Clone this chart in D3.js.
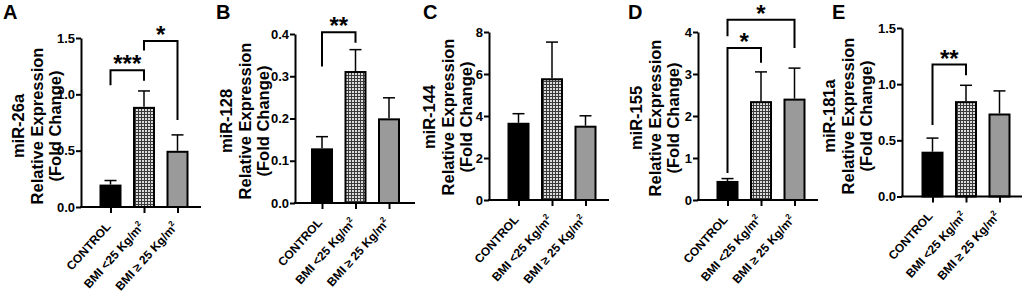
<!DOCTYPE html>
<html>
<head>
<meta charset="utf-8">
<script src="https://cdn.jsdelivr.net/npm/d3@7"></script>
<style>
  body { margin: 0; background: #fff; }
  svg { display: block; font-family: "Liberation Sans", Arial, sans-serif; font-weight: bold; }
</style>
</head>
<body>
<script>
// data
const groups = ["CONTROL", "BMI <25 Kg/m", "BMI \u2265 25 Kg/m"];
const groupSup = ["", "2", "2"];
const panelLetters = ["A", "B", "C", "D", "E"];
const mirnas = ["miR-26a", "miR-128", "miR-144", "miR-155", "miR-181a"];
const means = [
    [0.19, 0.88, 0.49],
    [0.127, 0.31, 0.198],
    [3.63, 5.75, 3.49],
    [0.43, 2.33, 2.39],
    [0.39, 0.84, 0.73]
];
const sems = [
    [0.045, 0.15, 0.15],
    [0.03, 0.053, 0.051],
    [0.48, 1.77, 0.52],
    [0.08, 0.72, 0.75],
    [0.13, 0.15, 0.21]
];
const yMax = [1.5, 0.4, 8, 4, 1.5];
const yStep = [0.5, 0.1, 2, 1, 0.5];
const yFormat = [".1f", ".1f", "d", "d", ".1f"];
// significance brackets: groups a-b, bar level, leg ends (data units)
const brackets = [
    [{ a: 0, b: 1, y: 1.213, ya: 1.08, yb: 1.12, t: "***" },
     { a: 1, b: 2, y: 1.473, ya: 1.39, yb: 0.772, t: "*" }],
    [{ a: 0, b: 1, y: 0.404, ya: 0.323, yb: 0.379, t: "**" }],
    [],
    [{ a: 0, b: 2, y: 4.29, ya: 3.9, yb: 3.62, t: "*" },
     { a: 0, b: 1, y: 3.62, ya: 0.64, yb: 3.27, t: "*" }],
    [{ a: 0, b: 1, y: 1.175, ya: 0.636, yb: 1.08, t: "**" }]
];

// layout
const axisX = [81, 295, 489, 698, 902];
const firstOff = [29.5, 27, 29.5, 29.5, 30.5];
const yBottom = [207, 203, 200, 200, 196.5];
const yTop = [38, 34, 32, 32, 28];
const letterX = [3, 216, 423, 628, 832];
const titleX = [18, 226, 429, 636, 829];
const titleY = [126, 121, 117, 118, 116];
const fills = ["#000", "url(#hatch)", "#9a9a9a"];

const svg = d3.select("body").append("svg")
    .attr("width", 1024)
    .attr("height", 292);

const pat = svg.append("defs").append("pattern")
    .attr("id", "hatch")
    .attr("patternUnits", "userSpaceOnUse")
    .attr("width", 3).attr("height", 3);
pat.append("rect").attr("width", 3).attr("height", 3).attr("fill", "#dcdcdc");
pat.append("rect").attr("width", 3).attr("height", 1).attr("fill", "#3a3a3a");
pat.append("rect").attr("width", 1).attr("height", 3).attr("fill", "#3a3a3a");

panelLetters.forEach((letter, i) => {
    const g = svg.append("g");
    const ax = axisX[i], y0 = yBottom[i];

    const x = d3.scalePoint().domain(d3.range(3)).range([ax + firstOff[i], ax + firstOff[i] + 67]);
    const y = d3.scaleLinear().domain([0, yMax[i]]).range([y0, yTop[i]]);

    g.append("text")
        .attr("x", letterX[i]).attr("y", 19)
        .attr("font-size", 20)
        .text(letter);

    // y title
    const title = g.append("text")
        .attr("transform", `translate(${titleX[i]},${titleY[i]}) rotate(-90)`)
        .attr("text-anchor", "middle")
        .attr("font-size", 16.5);
    [mirnas[i], "Relative Expression", "(Fold Change)"].forEach((s, k) => {
        title.append("tspan").attr("x", 0).attr("y", 6 + k * 18.5).text(s);
    });

    // bars
    g.selectAll(".bar").data(means[i]).join("rect")
        .attr("x", (d, k) => x(k) - 10)
        .attr("width", 20)
        .attr("y", d => y(d))
        .attr("height", d => y0 - y(d))
        .attr("fill", (d, k) => fills[k])
        .attr("stroke", "#000")
        .attr("stroke-width", 2);

    // error bars (upper only)
    means[i].forEach((m, k) => {
        g.append("line")
            .attr("x1", x(k)).attr("x2", x(k))
            .attr("y1", y(m) - 1).attr("y2", y(m + sems[i][k]))
            .attr("stroke", "#000").attr("stroke-width", 1.5);
        g.append("line")
            .attr("x1", x(k) - 6).attr("x2", x(k) + 6)
            .attr("y1", y(m + sems[i][k])).attr("y2", y(m + sems[i][k]))
            .attr("stroke", "#000").attr("stroke-width", 1.5);
    });

    // y axis
    const gy = g.append("g")
        .attr("transform", `translate(${ax},0)`)
        .call(d3.axisLeft(y)
            .tickValues(d3.range(0, yMax[i] + yStep[i] / 2, yStep[i]))
            .tickFormat(d3.format(yFormat[i]))
            .tickSize(5).tickSizeOuter(0))
        .attr("font-family", null).attr("font-size", null);
    gy.select(".domain").attr("stroke-width", 2);
    gy.selectAll(".tick line").attr("stroke-width", 2);
    gy.selectAll(".tick text").attr("font-size", 13).attr("fill", "#000").attr("x", -6);

    // x axis
    const gx = g.append("g")
        .attr("transform", `translate(0,${y0})`)
        .call(d3.axisBottom(x).tickSize(6).tickFormat(""));
    gx.select(".domain").remove();
    gx.selectAll(".tick line").attr("stroke-width", 2);
    gx.append("line")
        .attr("x1", ax - 1).attr("x2", ax + 120)
        .attr("stroke", "#000").attr("stroke-width", 2);

    groups.forEach((lab, k) => {
        const t = g.append("text")
            .attr("transform", `translate(${x(k) + 1},${y0 + 20}) rotate(-48)`)
            .attr("text-anchor", "end")
            .attr("font-size", 12)
            .text(lab);
        if (groupSup[k]) {
            t.append("tspan").attr("dy", -5).attr("font-size", 8).text(groupSup[k]);
        }
    });

    // significance
    brackets[i].forEach(b => {
        g.append("path")
            .attr("d", `M${x(b.a)},${y(b.ya)}V${y(b.y)}H${x(b.b)}V${y(b.yb)}`)
            .attr("fill", "none").attr("stroke", "#000").attr("stroke-width", 2);
        g.append("text")
            .attr("x", (x(b.a) + x(b.b)) / 2)
            .attr("y", y(b.y) + 2)
            .attr("text-anchor", "middle")
            .attr("font-size", 24)
            .text(b.t);
    });
});
</script>
</body>
</html>
